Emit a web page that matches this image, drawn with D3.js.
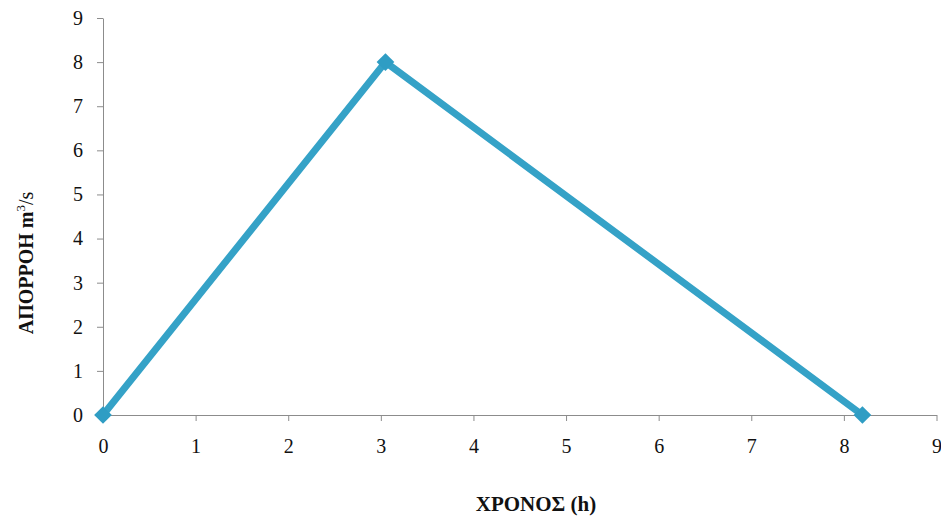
<!DOCTYPE html>
<html><head><meta charset="utf-8">
<script src="https://cdn.jsdelivr.net/npm/d3@7"></script>
<style>body{margin:0;background:#fff}svg{display:block}</style>
</head><body>
<svg id="c" width="941" height="518"></svg>
<script>
const timeValues = [0, 3.05, 8.2];
const runoffValues = [0, 8, 0];
const xTicks = [0,1,2,3,4,5,6,7,8,9];
const yTicks = [0,1,2,3,4,5,6,7,8,9];
const xTitle = "ΧΡΟΝΟΣ (h)";
const yTitleMain = "ΑΠΟΡΡΟΗ m";

const svg = d3.select("#c");
const x = d3.scaleLinear().domain([0,9]).range([103, 936.5]);
const y = d3.scaleLinear().domain([0,9]).range([415, 18]);
const font = "'Liberation Serif','Times New Roman',serif";

const xa = svg.append("g").attr("transform","translate(0,415)")
  .call(d3.axisBottom(x).tickValues(xTicks).tickSize(6).tickPadding(18).tickSizeOuter(0));
const ya = svg.append("g").attr("transform","translate(103,0)")
  .call(d3.axisLeft(y).tickValues(yTicks).tickSize(6).tickPadding(14).tickSizeOuter(0));
[xa,ya].forEach(a=>{
  a.selectAll("path,line").attr("stroke","#8c8c8c").attr("stroke-width",1);
  a.selectAll("text").attr("font-family",font).attr("font-size",20).attr("fill","#111");
});

const line = d3.line().x((d,i)=>x(timeValues[i])).y(d=>y(d));
svg.append("path").datum(runoffValues).attr("d",line)
  .attr("fill","none").attr("stroke","#35a2c7").attr("stroke-width",7).attr("stroke-linejoin","miter");
svg.selectAll(".pt").data(runoffValues).enter().append("path")
  .attr("transform",(d,i)=>`translate(${x(timeValues[i])},${y(d)})`)
  .attr("d",d3.symbol(d3.symbolDiamond2,200)).attr("fill","#2f9dc4");

svg.append("text").attr("x",536).attr("y",511).attr("text-anchor","middle")
  .attr("font-family",font).attr("font-size",21).attr("font-weight","bold").attr("fill","#111").text(xTitle);
const yt = svg.append("text").attr("transform","translate(33,263) rotate(-90)").attr("text-anchor","middle")
  .attr("font-family",font).attr("font-size",20).attr("fill","#111");
yt.append("tspan").attr("font-weight","bold").text(yTitleMain);
yt.append("tspan").attr("font-size",13).attr("dy",-8).text("3");
yt.append("tspan").attr("dy",8).text("/s");
</script>
</body></html>
